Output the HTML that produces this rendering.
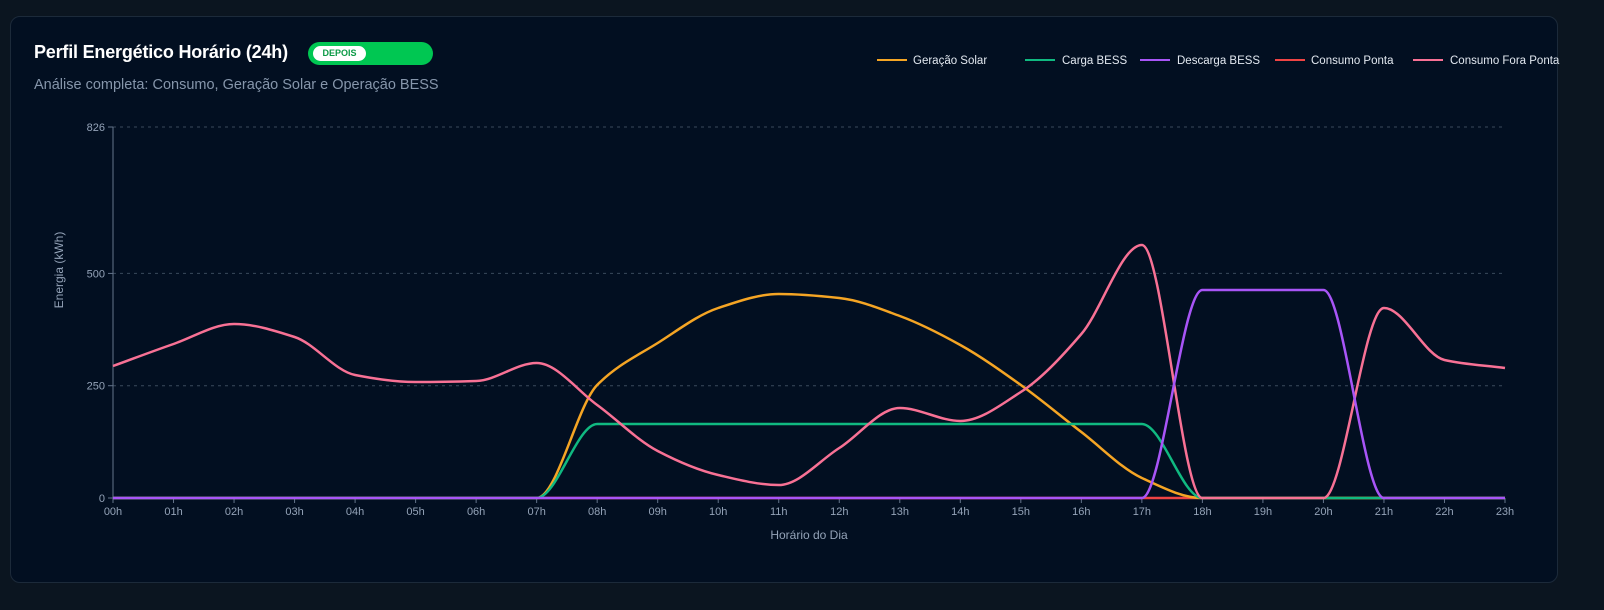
<!DOCTYPE html>
<html><head><meta charset="utf-8"><style>
html,body{margin:0;padding:0;background:#0b1520;width:1604px;height:610px;overflow:hidden;font-family:"Liberation Sans",sans-serif}
.card{position:absolute;left:10px;top:16px;width:1546px;height:565px;background:#020f21;border:1px solid #1c2a3a;border-radius:10px}
.t{position:absolute;left:34px;top:42px;color:#fff;font-weight:bold;font-size:18px;letter-spacing:-0.2px}
.badge{position:absolute;left:308px;top:42px;width:125px;height:23px;background:#00c752;border-radius:12px}
.badge span{position:absolute;left:5px;top:4px;width:53px;height:15px;background:#fff;border-radius:8px;color:#0c9a46;font-size:9px;font-weight:bold;text-align:center;line-height:15px}
.sub{position:absolute;left:34px;top:77px;color:#8696ab;font-size:14.5px}
</style></head><body>
<div class="card"></div>
<div class="t">Perfil Energético Horário (24h)</div>
<div class="badge"><span>DEPOIS</span></div>
<div class="sub">Análise completa: Consumo, Geração Solar e Operação BESS</div>
<svg id="s" width="1604" height="610" style="position:absolute;left:0;top:0" font-family="Liberation Sans, sans-serif">
<g font-size="11.5" fill="#e2e8f0">
<line x1="877" y1="60" x2="907" y2="60" stroke="#f5a524" stroke-width="2"/><text x="913" y="64">Geração Solar</text>
<line x1="1025" y1="60" x2="1055" y2="60" stroke="#10b981" stroke-width="2"/><text x="1062" y="64">Carga BESS</text>
<line x1="1140" y1="60" x2="1170" y2="60" stroke="#a855f7" stroke-width="2"/><text x="1177" y="64">Descarga BESS</text>
<line x1="1275" y1="60" x2="1305" y2="60" stroke="#ef4444" stroke-width="2"/><text x="1311" y="64">Consumo Ponta</text>
<line x1="1413" y1="60" x2="1443" y2="60" stroke="#f87195" stroke-width="2"/><text x="1450" y="64">Consumo Fora Ponta</text>
</g>
</svg>
<script>
var s=document.getElementById('s'),NS='http://www.w3.org/2000/svg';
function el(t,a,txt){var e=document.createElementNS(NS,t);for(var k in a)e.setAttribute(k,a[k]);if(txt!=null)e.textContent=txt;s.appendChild(e);return e;}
var X0=113,DX=(1505-113)/23,Y0=498,SC=371/826;
function X(i){return X0+i*DX}function Y(v){return Y0-v*SC}
[826,500,250].forEach(function(v){el('line',{x1:113,x2:1505,y1:Y(v),y2:Y(v),stroke:'#3a4a5c','stroke-dasharray':'3 4'});});
el('line',{x1:113,x2:113,y1:127,y2:498,stroke:'#64748b'});
el('line',{x1:113,x2:1505,y1:498,y2:498,stroke:'#64748b'});
[0,250,500,826].forEach(function(v){el('line',{x1:108,x2:113,y1:Y(v),y2:Y(v),stroke:'#64748b'});el('text',{x:105,y:Y(v)+4,'text-anchor':'end','font-size':'11',fill:'#94a3b8'},v);});
for(var i=0;i<24;i++){el('line',{x1:X(i),x2:X(i),y1:498,y2:503,stroke:'#64748b'});el('text',{x:X(i),y:515,'text-anchor':'middle','font-size':'11',fill:'#94a3b8'},(i<10?'0':'')+i+'h');}
el('text',{x:809,y:539,'text-anchor':'middle','font-size':'12',fill:'#94a3b8'},'Horário do Dia');
el('text',{x:63,y:270,'text-anchor':'middle','font-size':'12',fill:'#94a3b8',transform:'rotate(-90 63 270)'},'Energia (kWh)');
function mono(ys){var n=ys.length,xs=[],d=[],m=[];for(var i=0;i<n;i++)xs.push(X(i));
for(i=0;i<n-1;i++)d.push((ys[i+1]-ys[i])/DX);
m[0]=d[0];m[n-1]=d[n-2];
for(i=1;i<n-1;i++){if(d[i-1]*d[i]<=0)m[i]=0;else m[i]=2*d[i-1]*d[i]/(d[i-1]+d[i]);}
var p='M'+xs[0]+','+ys[0];
for(i=0;i<n-1;i++){var h3=DX/3;p+='C'+(xs[i]+h3)+','+(ys[i]+m[i]*h3)+' '+(xs[i+1]-h3)+','+(ys[i+1]-m[i+1]*h3)+' '+xs[i+1]+','+ys[i+1];}
return p;}
function line(px,c){el('path',{d:mono(px),fill:'none',stroke:c,'stroke-width':2.5});}
var z=498;
line([z,z,z,z,z,z,z,z,z,z,z,z,z,z,z,z,z,z,z,z,z,z,z,z],'#ef4444');
line([z,z,z,z,z,z,z,z,385,343,308,294,298,316,345,385,432,478,z,z,z,z,z,z],'#f5a524');
line([z,z,z,z,z,z,z,z,424,424,424,424,424,424,424,424,424,424,z,z,z,z,z,z],'#10b981');
line([366,344,324,337,375,382,381,363,405,451,475,485,448,408,421,392,334,245,z,z,z,308,360,368],'#f87195');
line([z,z,z,z,z,z,z,z,z,z,z,z,z,z,z,z,z,z,290,290,290,z,z,z],'#a855f7');
</script>
</body></html>
